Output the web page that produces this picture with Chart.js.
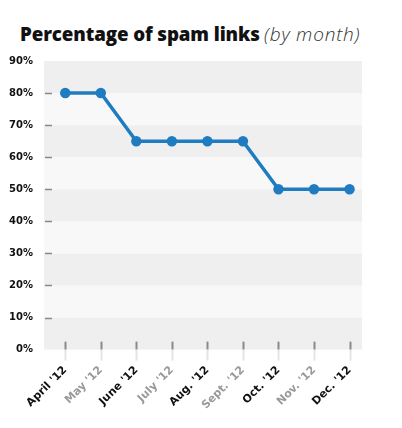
<!DOCTYPE html>
<html>
<head>
<meta charset="utf-8">
<script src="https://cdn.jsdelivr.net/npm/chart.js@4"></script>
<style>
  body { margin: 0; background: #fff; }
  #wrap { position: relative; width: 402px; height: 428px; }
  #title {
    position: absolute; left: 20px; top: 21px; white-space: nowrap;
    font-family: "Open Sans", sans-serif; color: #111;
  }
  #title b { font-weight: 800; font-size: 18.7px; letter-spacing: -0.1px; }
  #title i { font-weight: 300; font-size: 19px; color: #333; letter-spacing: 0.8px; }
  #chart { position: absolute; left: 0; top: 0; }
</style>
</head>
<body>
<div id="wrap">
  <div id="title"><b>Percentage of spam links</b> <i>(by month)</i></div>
  <canvas id="chart" width="402" height="428"></canvas>
</div>
<script>
const months = ["April '12", "May '12", "June '12", "July '12", "Aug. '12", "Sept. '12", "Oct. '12", "Nov. '12", "Dec. '12"];
const spamPct = [80, 80, 65, 65, 65, 65, 50, 50, 50];
const yTicks = [0, 10, 20, 30, 40, 50, 60, 70, 80, 90];

// bands, little y dashes and x tick marks
const decor = {
  id: "decor",
  beforeDatasetsDraw(chart) {
    const { ctx, chartArea: a, scales: { x, y } } = chart;
    ctx.save();
    for (let i = 0; i < yTicks.length - 1; i++) {
      const top = y.getPixelForValue(yTicks[i + 1]);
      const bot = y.getPixelForValue(yTicks[i]);
      ctx.fillStyle = i % 2 === 0 ? "#efefef" : "#f8f8f8";
      ctx.fillRect(a.left, top, a.right - a.left, bot - top);
    }
    ctx.strokeStyle = "#888";
    ctx.lineWidth = 1.5;
    yTicks.slice(1, -1).forEach((v) => {
      const py = Math.round(y.getPixelForValue(v)) + 0.5;
      ctx.beginPath();
      ctx.moveTo(a.left + 1, py);
      ctx.lineTo(a.left + 8, py);
      ctx.stroke();
    });
    months.forEach((m, i) => {
      const px = Math.round(x.getPixelForValue(i)) + 0.5;
      ctx.strokeStyle = "#8a8a8a";
      ctx.lineWidth = 2;
      ctx.beginPath();
      ctx.moveTo(px, a.bottom - 8);
      ctx.lineTo(px, a.bottom);
      ctx.stroke();
      ctx.strokeStyle = "#e4e4e4";
      ctx.beginPath();
      ctx.moveTo(px, a.bottom);
      ctx.lineTo(px, a.bottom + 11);
      ctx.stroke();
    });
    ctx.restore();
  },
};

new Chart(document.getElementById("chart"), {
  type: "line",
  data: {
    datasets: [{
      data: spamPct.map((v, i) => ({ x: i, y: v })),
      borderColor: "#1f7cc0",
      backgroundColor: "#1f7cc0",
      borderWidth: 3.5,
      pointRadius: 3.5,
      pointHoverRadius: 3.5,
      tension: 0,
    }],
  },
  options: {
    responsive: false,
    animation: false,
    layout: { padding: { top: 61, right: 40, left: 6, bottom: 10 } },
    plugins: { legend: { display: false }, tooltip: { enabled: false } },
    scales: {
      x: {
        type: "linear",
        min: -0.6,
        max: 8.35,
        afterBuildTicks: (s) => { s.ticks = months.map((_, i) => ({ value: i })); },
        grid: { display: false },
        border: { display: false },
        ticks: {
          autoSkip: false,
          maxRotation: 45,
          minRotation: 45,
          padding: 6,
          color: (c) => (c.index % 2 === 0 ? "#111" : "#999"),
          font: { family: "DejaVu Sans", size: 11, weight: "bold" },
          callback: (v) => months[v],
        },
      },
      y: {
        min: 0,
        max: 90,
        afterBuildTicks: (s) => { s.ticks = yTicks.map((v) => ({ value: v })); },
        grid: { display: false },
        border: { display: false },
        ticks: {
          padding: 3,
          color: "#111",
          font: { family: "DejaVu Sans", size: 10, weight: "bold" },
          callback: (v) => v + "%",
        },
      },
    },
  },
  plugins: [decor],
});
</script>
</body>
</html>
